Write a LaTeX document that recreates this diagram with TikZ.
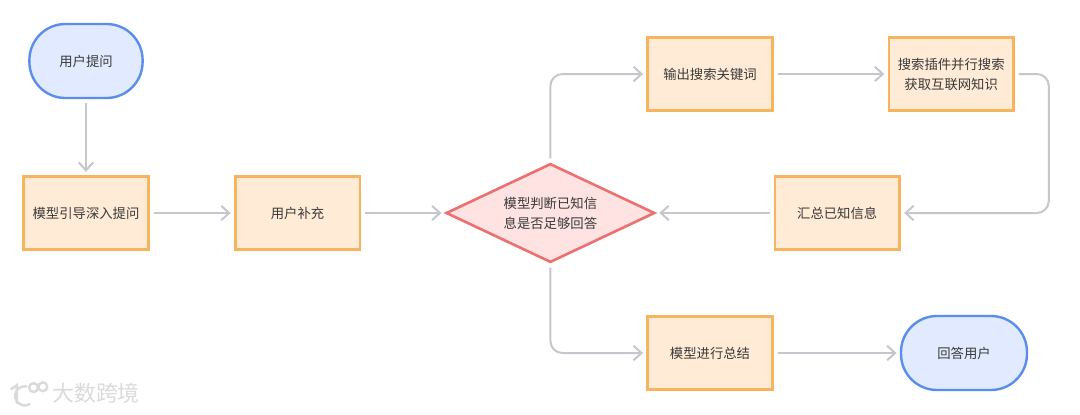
\documentclass[tikz,border=0pt]{standalone}
\usepackage{fontspec}
\setmainfont{Noto Sans CJK SC}
\usetikzlibrary{arrows.meta, shapes.geometric}
\definecolor{linegray}{HTML}{C4C7CC}
\definecolor{textgray}{HTML}{3A3A3A}
\definecolor{boxfill}{HTML}{FFEBD6}
\definecolor{boxdraw}{HTML}{F8B35E}
\definecolor{pillfill}{HTML}{E1EAFF}
\definecolor{pilldraw}{HTML}{5B8DEA}
\definecolor{diafill}{HTML}{FFE2E2}
\definecolor{diadraw}{HTML}{EC7070}
\definecolor{markgray}{HTML}{DADADA}

\begin{document}
\begin{tikzpicture}[
    nodetext/.style={font=\fontsize{9.5pt}{14.2pt}\selectfont, text=textgray, align=center},
    procbox/.style={nodetext, rectangle, draw=boxdraw, fill=boxfill, line width=0.065cm, minimum width=3.12cm, minimum height=1.83cm},
    pill/.style={nodetext, rectangle, rounded corners=0.9cm, draw=pilldraw, fill=pillfill, line width=0.06cm, minimum height=1.85cm},
    decision/.style={nodetext, diamond, aspect=2.1, inner sep=0pt, draw=diadraw, fill=diafill, line width=0.065cm, minimum width=5.22cm, minimum height=2.47cm},
    arrow/.style={-{Straight Barb[length=0.2cm, width=0.36cm]}, draw=linegray, line width=0.05cm, rounded corners=0.3cm, shorten >=0.08cm, shorten <=0.1cm},
    markstroke/.style={draw=markgray, line width=0.06cm, line cap=round}
]
\useasboundingbox (0,0) rectangle (27,10.35);

% ===== LEFT =====
\node[pill, minimum width=2.83cm] (ask) at (2.15,8.825) {用户提问};
\node[procbox] (guide) at (2.15,5.025) {模型引导深入提问};
\node[procbox] (extra) at (7.44,5.025) {用户补充};

% ===== DECISION =====
\node[decision] (judge) at (13.76,5.025) {模型判断已知信\\息是否足够回答};

% ===== SEARCH LOOP =====
\node[procbox] (keywords) at (17.75,8.5) {输出搜索关键词};
\node[procbox] (plugin) at (23.78,8.5) {搜索插件并行搜索\\获取互联网知识};
\node[procbox] (gather) at (20.93,5.025) {汇总已知信息};
\coordinate (turn) at (26.22,5.025);

% ===== ANSWER =====
\node[procbox] (summary) at (17.75,1.525) {模型进行总结};
\node[pill, minimum width=3.15cm] (reply) at (24.1,1.525) {回答用户};

% Connectors
\draw[arrow] (ask) -- (guide);
\draw[arrow] (guide) -- (extra);
\draw[arrow] (extra) -- (judge);
\draw[arrow] (judge.north) |- (keywords.west);
\draw[arrow] (keywords) -- (plugin);
\draw[arrow] (plugin.east) -| (turn) -- (gather.east);
\draw[arrow] (gather) -- (judge);
\draw[arrow] (judge.south) |- (summary.west);
\draw[arrow] (summary) -- (reply);

% Watermark
\node[font=\fontsize{15.6pt}{15.6pt}\selectfont, text=markgray, inner sep=0pt] (mark) at (2.4,0.52) {大数跨境};
\draw[markstroke] (0.28,0.62) -- (0.42,0.72) -- (0.42,0.28);
\draw[markstroke] (0.66,0.69) arc (80:300:0.24);
\draw[markstroke] (0.84,0.66) circle (0.11);
\draw[markstroke] (1.07,0.68) circle (0.11);
\end{tikzpicture}
\end{document}
